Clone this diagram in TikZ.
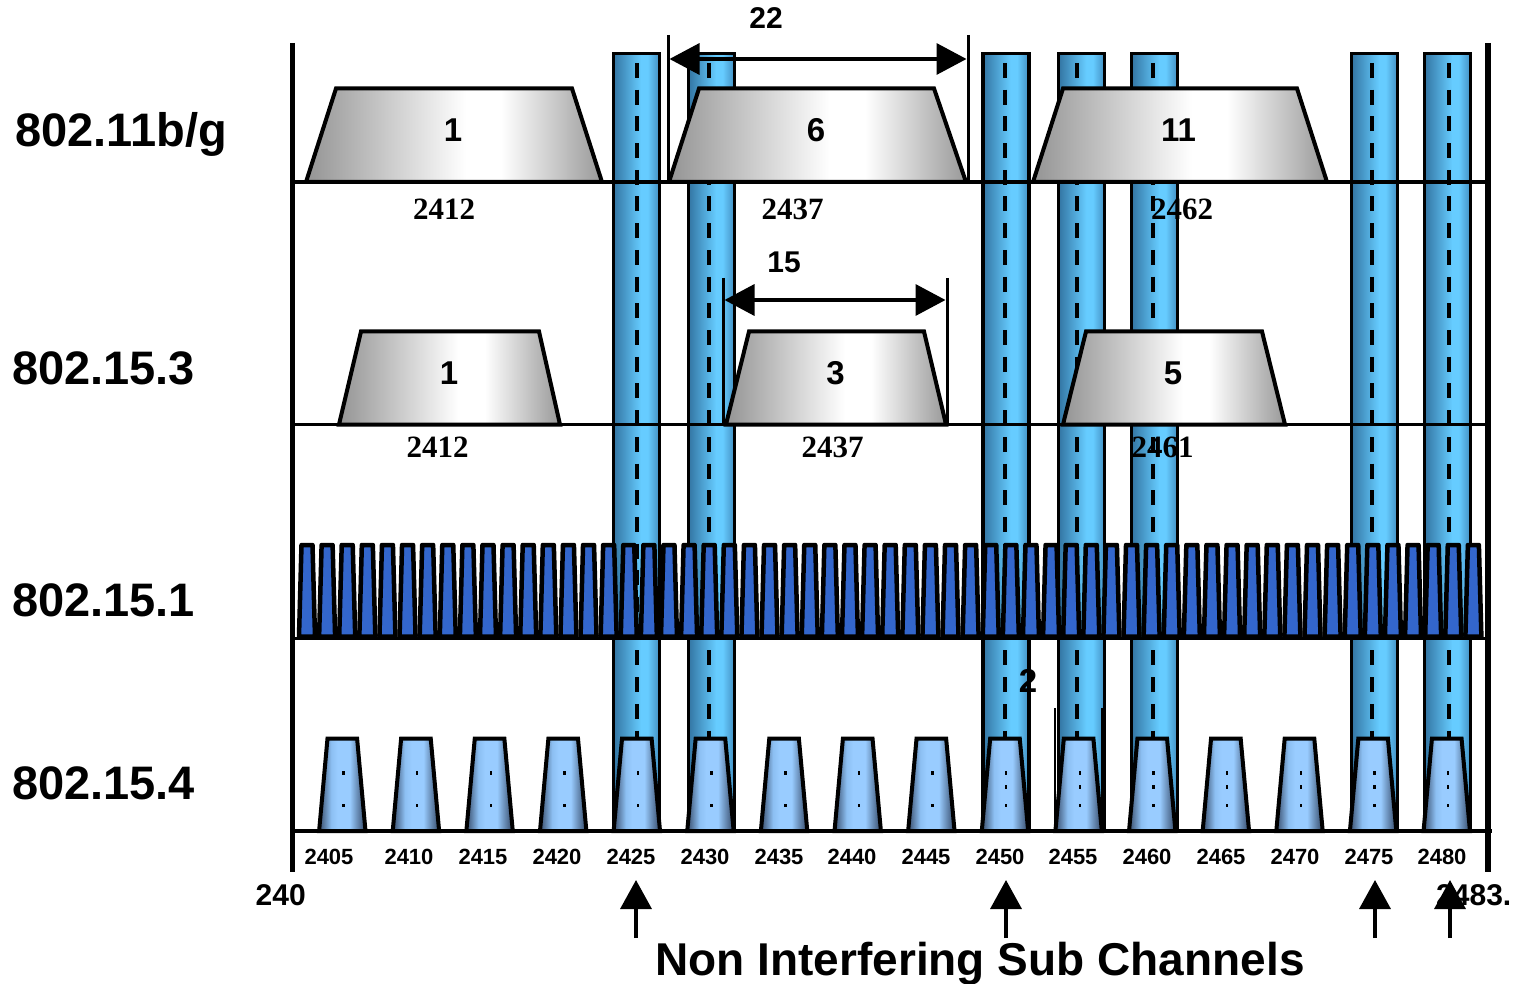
\documentclass[tikz,border=0pt]{standalone}
\usepackage{fontspec}
\setmainfont{Liberation Sans}
\newfontfamily\serifb{Liberation Serif}
\usetikzlibrary{arrows.meta}
\pgfdeclarehorizontalshading{barsh}{100bp}{rgb(0bp)=(0.20,0.46,0.64); rgb(25bp)=(0.20,0.46,0.64); rgb(55bp)=(0.40,0.80,1.00); rgb(62bp)=(0.40,0.80,1.00); rgb(75bp)=(0.26,0.56,0.76); rgb(100bp)=(0.26,0.56,0.76)}
\pgfdeclarehorizontalshading{graysh}{100bp}{rgb(0bp)=(0.58,0.58,0.58); rgb(25bp)=(0.58,0.58,0.58); rgb(52bp)=(1,1,1); rgb(58bp)=(1,1,1); rgb(75bp)=(0.60,0.60,0.60); rgb(100bp)=(0.60,0.60,0.60)}
\pgfdeclarehorizontalshading{zbsh}{100bp}{rgb(0bp)=(0.22,0.30,0.42); rgb(25bp)=(0.22,0.30,0.42); rgb(38bp)=(0.55,0.75,0.95); rgb(45bp)=(0.60,0.80,1.00); rgb(58bp)=(0.60,0.80,1.00); rgb(75bp)=(0.20,0.28,0.40); rgb(100bp)=(0.20,0.28,0.40)}
\definecolor{btblue}{RGB}{51,102,204}
\tikzset{
  bar/.style={draw=black, line width=3.5pt, shade, shading=barsh},
  dashln/.style={line width=4pt, dash pattern=on 15pt off 11.7pt},
  gtrap/.style={draw=black, line width=4pt, shade, shading=graysh},
  bttrap/.style={draw=black, line width=4.5pt, line join=round, fill=btblue},
  zbtrap/.style={draw=black, line width=4pt, shade, shading=zbsh},
  rowline/.style={line width=3.5pt},
  axisline/.style={line width=5.5pt},
  dimtick/.style={line width=3pt},
  dimarrow/.style={line width=3.5pt, {Triangle[length=30pt,width=31pt]}-{Triangle[length=30pt,width=31pt]}, shorten <=1.5pt, shorten >=1.5pt},
  uparrow/.style={line width=3.5pt, -{Triangle[length=29pt,width=31pt]}},
  rowlab/.style={font=\fontsize{47}{50}\selectfont\bfseries, anchor=base west, inner sep=0pt},
  chnum/.style={font=\fontsize{33}{36}\selectfont\bfseries, inner sep=0pt},
  dimlab/.style={font=\fontsize{30}{34}\selectfont\bfseries, inner sep=0pt},
  freqlab/.style={font=\serifb\fontsize{31}{34}\selectfont\bfseries, inner sep=0pt},
  ticklab/.style={font=\fontsize{22}{24}\selectfont\bfseries, inner sep=0pt},
  endlab/.style={font=\fontsize{30}{34}\selectfont\bfseries, inner sep=0pt},
  bottomlab/.style={font=\fontsize{46}{50}\selectfont\bfseries, anchor=base, inner sep=0pt}
}
\begin{document}
\begin{tikzpicture}[x=1pt,y=-1pt]
\useasboundingbox (0,0) rectangle (1521,984);

% non interfering sub channel bars
\foreach \c/\d in {636.5/636.7, 711.5/709, 1006/1005, 1081.7/1076.7, 1154.5/1153.3, 1374.5/1372.3, 1447.5/1449} {
  \draw[bar] (\c-23,53.5) rectangle (\c+23,831);
  \draw[dashln] (\d,63) -- (\d,831);
}
\draw[line width=2.5pt] (1055,708) -- (1055,831);
\draw[line width=2.5pt] (1102,708) -- (1102,831);

% 802.11b/g channels
\draw[gtrap] (306,182) -- (336,88.5) -- (572,88.5) -- (602,182) -- cycle;
\draw[gtrap] (669,182) -- (699,88.5) -- (934,88.5) -- (966,182) -- cycle;
\draw[gtrap] (1033,182) -- (1063,88.5) -- (1297,88.5) -- (1327,182) -- cycle;
% 802.15.3 channels
\draw[gtrap] (339,424.5) -- (361,331.5) -- (539,331.5) -- (560,424.5) -- cycle;
\draw[gtrap] (726,424.5) -- (749,331.5) -- (924,331.5) -- (946,424.5) -- cycle;
\draw[gtrap] (1063,424.5) -- (1086,331.5) -- (1262,331.5) -- (1285,424.5) -- cycle;

% row base lines
\draw[rowline] (293,182) -- (1488,182);
\draw[rowline] (293,424.5) -- (1488,424.5);

% 802.15.1 hopping channels
\foreach \k in {0,...,58} {
  \pgfmathsetmacro\c{307+20.11*\k}
  \draw[bttrap] (\c-8,636.5) -- (\c-5.5,545) -- (\c+5.5,545) -- (\c+8,636.5) -- cycle;
}
\draw[rowline] (293,638.5) -- (1488,638.5);

% 802.15.4 channels
\foreach \k in {0,...,15} {
  \pgfmathsetmacro\c{342.3+73.63*\k}
  \draw[zbtrap] (\c-23.2,831) -- (\c-14.8,738.5) -- (\c+14.8,738.5) -- (\c+23.2,831) -- cycle;
  \fill (\c,771) rectangle (\c+2.5,775);
  \fill (\c,804) rectangle (\c+2.5,807);
}
\foreach \k in {9,...,15} {
  \pgfmathsetmacro\c{342.3+73.63*\k}
  \fill (\c,785) rectangle (\c+2.5,789);
}

% axes
\draw[axisline] (292.5,43) -- (292.5,872);
\draw[axisline] (1488,43) -- (1488,872);
\draw[line width=4.5pt] (290,831) -- (1492,831);

% dimension 22
\coordinate (t22lt) at (668,35); \coordinate (t22lb) at (668,183);
\coordinate (t22rt) at (968,35); \coordinate (t22rb) at (968,183);
\coordinate (a22l) at (668,59); \coordinate (a22r) at (968,59);
\draw[dimtick] (t22lt) -- (t22lb);
\draw[dimtick] (t22rt) -- (t22rb);
\draw[dimarrow] (a22l) -- (a22r);
\node[dimlab] (l22) at (766,18) {22};

% dimension 15
\coordinate (t15lt) at (723,278); \coordinate (t15lb) at (723,425);
\coordinate (t15rt) at (947,278); \coordinate (t15rb) at (947,425);
\coordinate (a15l) at (723,300); \coordinate (a15r) at (947,300);
\draw[dimtick] (t15lt) -- (t15lb);
\draw[dimtick] (t15rt) -- (t15rb);
\draw[dimarrow] (a15l) -- (a15r);
\node[dimlab] (l15) at (784,262) {15};

% channel numbers
\node[chnum] (w1) at (453,130) {1};
\node[chnum] (w6) at (816,130) {6};
\node[chnum] (w11) at (1178.5,130) {11};
\node[chnum] (p1) at (449,373) {1};
\node[chnum] (p3) at (835.5,373) {3};
\node[chnum] (p5) at (1173,373) {5};
\node[chnum] (two) at (1028,680.5) {2};

% centre frequencies
\node[freqlab] (fw1) at (444,209) {2412};
\node[freqlab] (fw6) at (792.5,209) {2437};
\node[freqlab] (fw11) at (1182,209) {2462};
\node[freqlab] (fp1) at (437.5,447) {2412};
\node[freqlab] (fp3) at (832.5,447) {2437};
\node[freqlab] (fp5) at (1162.5,447) {2461};

% row labels
\node[rowlab] (r1) at (15,146.5) {802.11b/g};
\node[rowlab] (r2) at (12,384.5) {802.15.3};
\node[rowlab] (r3) at (12,616.5) {802.15.1};
\node[rowlab] (r4) at (12,799.5) {802.15.4};

% axis labels
\foreach \x/\f in {329/2405, 409/2410, 483/2415, 557/2420, 631/2425, 705/2430, 779/2435, 852/2440, 926/2445, 1000/2450, 1073/2455, 1147/2460, 1221/2465, 1295/2470, 1369/2475, 1442/2480} {
  \node[ticklab] (ax\f) at (\x,856.5) {\f};
}
\node[endlab, anchor=base east] (lo) at (306,905) {240};
\node[endlab, anchor=base west] (hi) at (1436,905) {2483.};

% non interfering sub channel markers
\foreach \x/\n in {636/a, 1006/b, 1375/c, 1450/d} {
  \coordinate (up\n0) at (\x,938);
  \coordinate (up\n1) at (\x,880);
  \draw[uparrow] (up\n0) -- (up\n1);
}
\node[bottomlab] (nisc) at (980,975) {Non Interfering Sub Channels};
\end{tikzpicture}
\end{document}
